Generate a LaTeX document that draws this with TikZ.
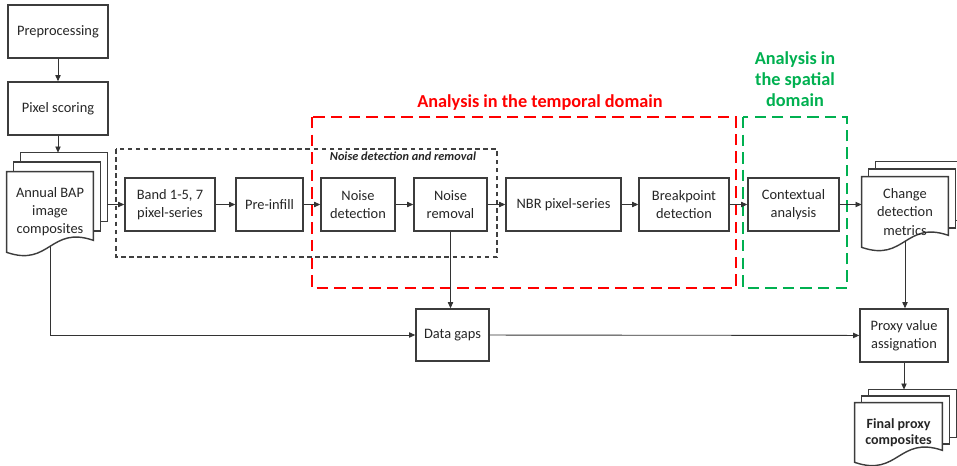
\documentclass[tikz,border=0pt]{standalone}
\usepackage{fontspec}
\setmainfont{Carlito}
\usetikzlibrary{arrows.meta,calc,backgrounds}

\definecolor{tempred}{RGB}{255,0,0}
\definecolor{spatgreen}{RGB}{0,176,80}
\definecolor{boxline}{RGB}{60,60,60}

\tikzset{
  every node/.style={font=\fontsize{8.2}{10.3}\selectfont, text=black!85},
  procbox/.style={draw=boxline, line width=0.8pt, fill=white, align=center, inner sep=0pt, minimum height=1.06cm},
  docbox/.style={align=center, inner sep=0pt},
  docsheet/.style={draw=boxline, line width=0.8pt, fill=white},
  flow/.style={draw=black!80, line width=0.5pt, -{Triangle[length=3.5pt,width=3pt]}},
  domainbox/.style={line width=1.6pt, dash pattern=on 6.5pt off 3.5pt},
  groupbox/.style={draw=black!75, line width=0.8pt, dash pattern=on 2.6pt off 2pt},
  domaintitle/.style={font=\fontsize{10.4}{11.9}\selectfont\bfseries, align=center},
}

\newcommand\docstack[2]{%
  \begin{scope}[on background layer]
  \path[docsheet] ($(#1.north west)+(14,{-2*#2})$) rectangle ($(#1.south east)+(14,{-2*#2-12})$);
  \path[docsheet] ($(#1.north west)+(7,-#2)$) rectangle ($(#1.south east)+(7,{-#2-12})$);
  \path[docsheet] (#1.north west) -- (#1.north east) -- ($(#1.south east)+(0,-12)$)
     .. controls ($(#1.south)+(0,-27)$) and ($(#1.south)+(0,15)$) .. (#1.south west) -- cycle;
  \end{scope}
  \coordinate (#1-top) at ($(#1.north)+(0,{-2*#2})$);
  \coordinate (#1-edge) at ($(#1.north east)+(14,{-2*#2})$);
  \coordinate (#1-out) at ($(#1.south)+(0,-6)$);
}

\begin{document}
\begin{tikzpicture}[x=0.02cm,y=-0.02cm]
\useasboundingbox (0,0) rectangle (957,466);

\draw[domainbox, tempred] (312,117) rectangle (736,288);
\draw[domainbox, spatgreen] (743,117) rectangle (847,288);
\draw[groupbox] (116,149) rectangle (497,257);

\node[domaintitle, text=tempred] (temptitle) at (540,103) {Analysis in the temporal domain};
\node[domaintitle, text=spatgreen] (spattitle) at (795,79) {Analysis in\\the spatial\\domain};
\node[font=\fontsize{7}{8}\selectfont\bfseries\itshape] (noisetitle) at (403,156) {Noise detection and removal};

\node[procbox, minimum width=2cm] (prep) at (58,31.5) {Preprocessing};
\node[procbox, minimum width=2cm] (pix) at (58,108.5) {Pixel scoring};
\node[docbox, minimum width=1.72cm, minimum height=1.6cm] (bap) at (50,212) {Annual BAP\\image\\composites};
\docstack{bap}{9.5}

\node[procbox, minimum width=1.8cm] (band) at (170,204.5) {Band 1-5, 7\\pixel-series};
\node[procbox, minimum width=1.34cm] (preinf) at (269.5,204.5) {Pre-infill};
\node[procbox, minimum width=1.48cm] (ndet) at (358,204.5) {Noise\\detection};
\node[procbox, minimum width=1.46cm] (nrem) at (450.5,204.5) {Noise\\removal};
\node[procbox, minimum width=2.3cm] (nbr) at (563.5,204.5) {NBR pixel-series};
\node[procbox, minimum width=1.8cm] (brk) at (684,204.5) {Breakpoint\\detection};
\node[procbox, minimum width=1.82cm] (ctx) at (793.5,204.5) {Contextual\\analysis};

\node[docbox, minimum width=1.72cm, minimum height=1.4cm] (chg) at (905,212) {Change\\detection\\metrics};
\docstack{chg}{7.5}

\node[procbox, minimum width=1.46cm, minimum height=1.04cm] (gaps) at (452.5,335) {Data gaps};
\node[procbox, minimum width=1.76cm] (proxy) at (904,335.5) {Proxy value\\assignation};

\node[docbox, minimum width=1.74cm, minimum height=1.18cm, font=\fontsize{8}{9.2}\selectfont\bfseries] (fin) at (898.5,432.5) {Final proxy\\composites};
\docstack{fin}{6.5}

\draw[flow] (prep) -- (pix);
\draw[flow] (pix.south) -- (pix.south |- bap-top);
\draw[flow] (bap-edge |- band.west) -- (band.west);
\draw[flow] (band) -- (preinf);
\draw[flow] (preinf) -- (ndet);
\draw[flow] (ndet) -- (nrem);
\draw[flow] (nrem) -- (nbr);
\draw[flow] (nbr) -- (brk);
\draw[flow] (brk) -- (ctx);
\draw[flow] (ctx.east) -- (chg.west |- ctx.east);
\draw[flow] (nrem.south) -- (nrem.south |- gaps.north);
\draw[flow] (bap-out) |- (gaps.west);
\draw[flow] (gaps) -- (proxy);
\draw[flow] (chg-out) -- (chg-out |- proxy.north);
\draw[flow] (proxy.south) -- (proxy.south |- fin-top);
\end{tikzpicture}
\end{document}
